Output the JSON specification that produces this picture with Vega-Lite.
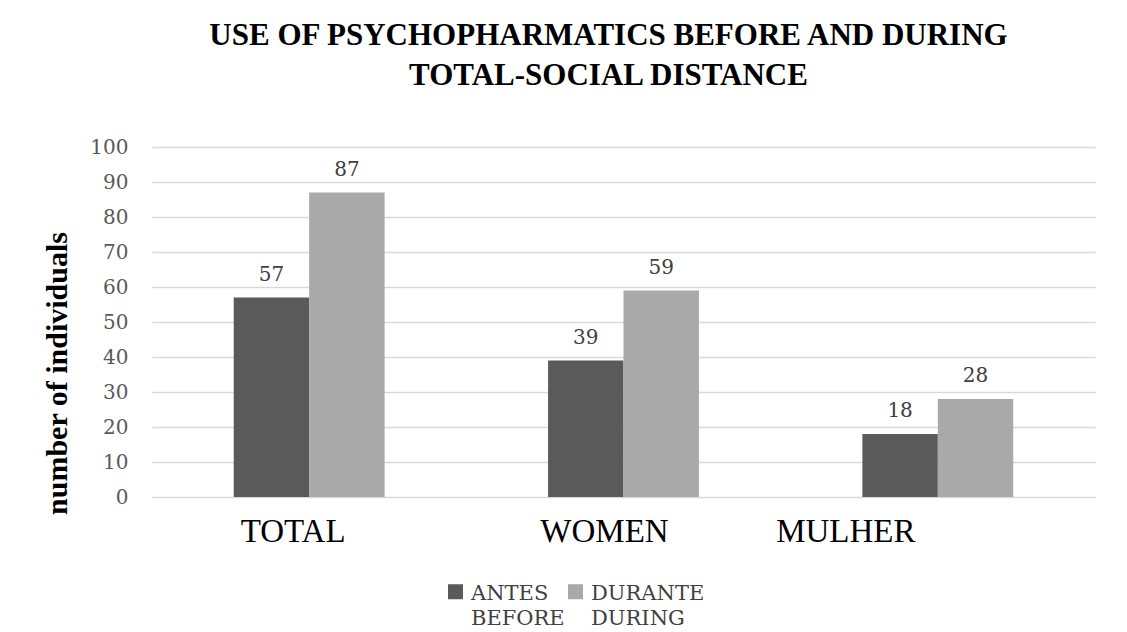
{
  "$schema": "https://vega.github.io/schema/vega-lite/v6.json",
  "autosize": "none",
  "width": 943,
  "height": 350,
  "padding": {"left": 152, "top": 147, "right": 32, "bottom": 135},
  "background": "white",
  "title": {
    "text": ["USE OF PSYCHOPHARMATICS BEFORE AND DURING", "TOTAL-SOCIAL DISTANCE"],
    "font": "Liberation Serif",
    "fontSize": 31,
    "fontWeight": "bold",
    "color": "#000000",
    "lineHeight": 40,
    "frame": "group",
    "anchor": "middle",
    "dx": -15,
    "offset": 45
  },
  "data": {
    "values": [
      {"group": "TOTAL", "period": "ANTES", "value": 57},
      {"group": "TOTAL", "period": "DURANTE", "value": 87},
      {"group": "WOMEN", "period": "ANTES", "value": 39},
      {"group": "WOMEN", "period": "DURANTE", "value": 59},
      {"group": "MULHER", "period": "ANTES", "value": 18},
      {"group": "MULHER", "period": "DURANTE", "value": 28}
    ]
  },
  "encoding": {
    "x": {
      "field": "group",
      "type": "nominal",
      "sort": ["TOTAL", "WOMEN", "MULHER"],
      "scale": {"paddingInner": 0.52, "paddingOuter": 0.26},
      "axis": {
        "title": null,
        "labelAngle": 0,
        "labelFont": "Liberation Serif",
        "labelFontSize": 33,
        "labelColor": "#000000",
        "labelPadding": 18,
        "domain": false,
        "ticks": false,
        "grid": false,
        "labelOffset": {
          "condition": [
            {"test": "datum.value === 'MULHER'", "value": -92},
            {"test": "datum.value === 'WOMEN'", "value": -19}
          ],
          "value": -16
        }
      }
    },
    "xOffset": {
      "field": "period",
      "type": "nominal",
      "sort": ["ANTES", "DURANTE"],
      "scale": {"paddingInner": 0, "paddingOuter": 0}
    },
    "y": {
      "field": "value",
      "type": "quantitative",
      "scale": {"domain": [0, 100]},
      "axis": {
        "title": "number of individuals",
        "titleFont": "Liberation Serif",
        "titleFontSize": 30,
        "titleFontWeight": "bold",
        "titleColor": "#000000",
        "titleX": -80,
        "titleY": 226,
        "values": [0, 10, 20, 30, 40, 50, 60, 70, 80, 90, 100],
        "labelFont": "DejaVu Serif",
        "labelFontSize": 20,
        "labelColor": "#595959",
        "labelPadding": 24,
        "domain": false,
        "ticks": false,
        "grid": true,
        "gridColor": "#d9d9d9",
        "gridWidth": 1.5
      }
    }
  },
  "layer": [
    {
      "mark": {"type": "bar"},
      "encoding": {
        "color": {
          "field": "period",
          "type": "nominal",
          "scale": {"domain": ["ANTES", "DURANTE"], "range": ["#5a5a5a", "#a9a9a9"]},
          "legend": {
            "title": null,
            "orient": "none",
            "legendX": 293,
            "legendY": 434,
            "direction": "horizontal",
            "symbolType": "square",
            "symbolSize": 225,
            "symbolStrokeWidth": 0,
            "labelFont": "DejaVu Serif",
            "labelFontSize": 21,
            "labelColor": "#404040",
            "labelOffset": 5,
            "columnPadding": -9,
            "labelExpr": "datum.label === 'ANTES' ? ['ANTES', 'BEFORE'] : ['DURANTE', 'DURING']",
            "labelBaseline": "alphabetic",
            "encode": {
              "labels": {
                "update": {
                  "lineHeight": {"value": 25},
                  "dy": {"value": 8}
                }
              }
            }
          }
        }
      }
    },
    {
      "mark": {
        "type": "text",
        "baseline": "bottom",
        "dy": -13,
        "font": "DejaVu Serif",
        "fontSize": 20,
        "color": "#404040"
      },
      "encoding": {
        "text": {"field": "value", "type": "quantitative"}
      }
    }
  ],
  "config": {
    "view": {"stroke": null}
  }
}
